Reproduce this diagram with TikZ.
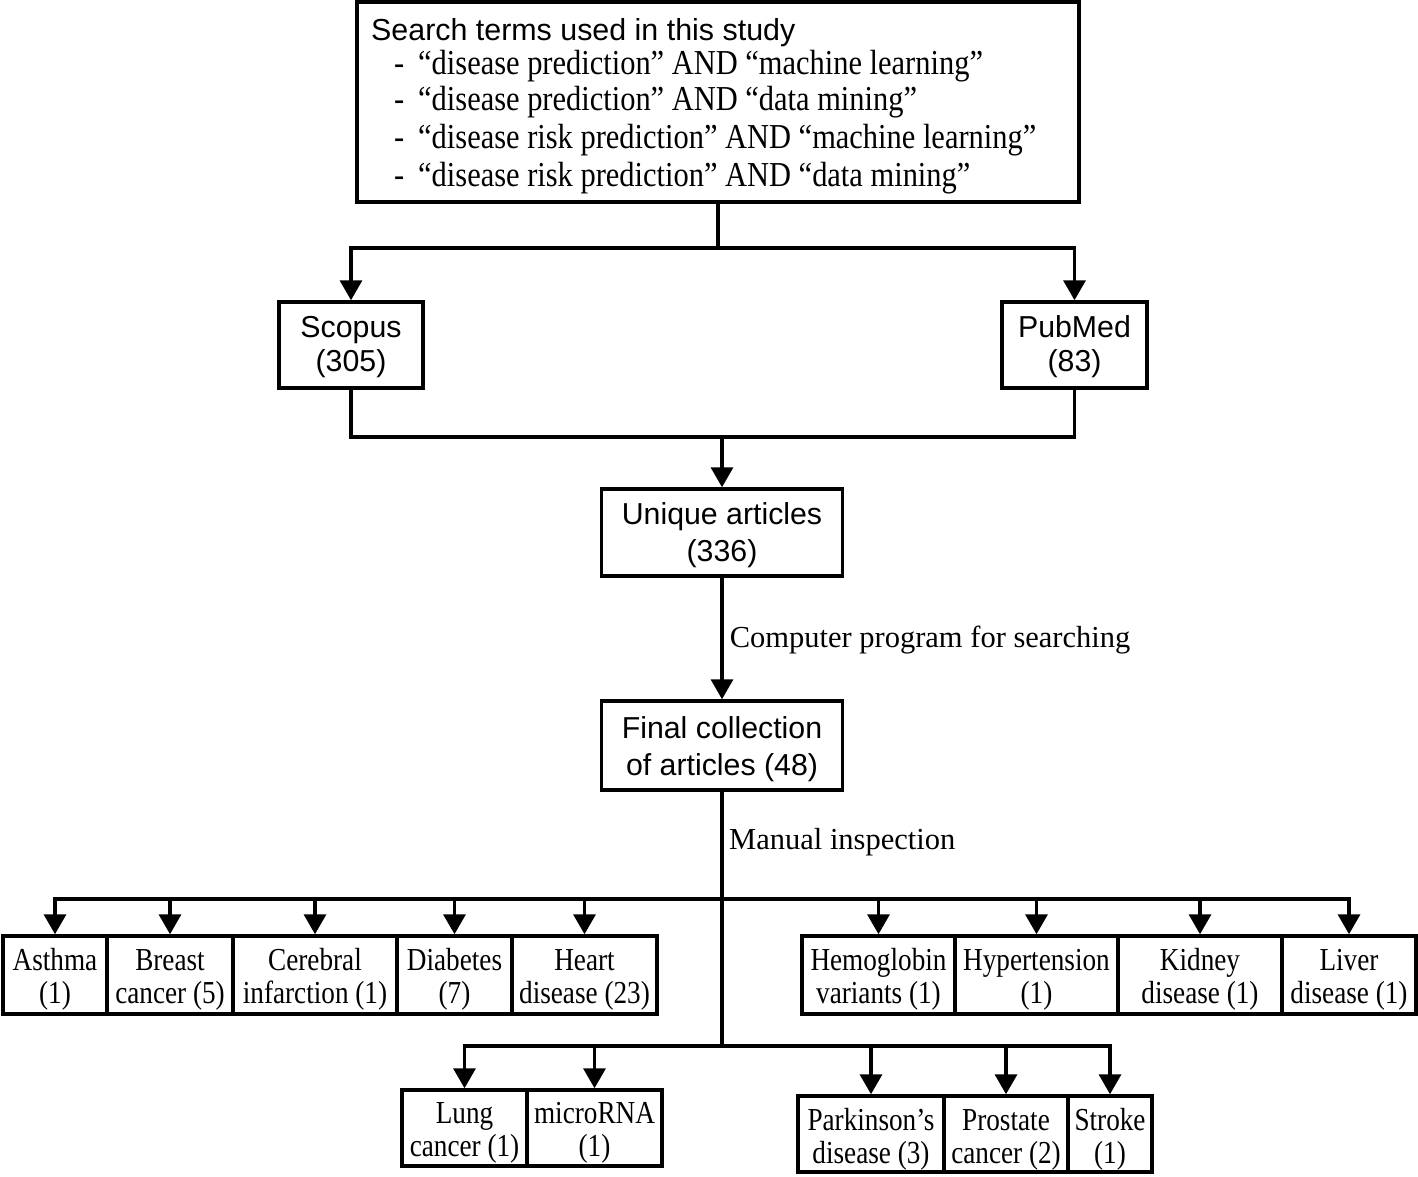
\documentclass[tikz,border=0pt]{standalone}
\usepackage{fontspec}
\setmainfont{Liberation Serif}
\newfontfamily\arialf{Liberation Sans}
\newfontfamily\serifc[FakeStretch=0.85]{Liberation Serif}
\newfontfamily\serift[FakeStretch=0.87]{Liberation Serif}
\usetikzlibrary{arrows.meta}
\newcommand\mystrut[1]{\rule{0pt}{#1}}
\tikzset{
  box/.style={draw, line width=3.5pt, inner sep=0pt, align=center},
  sansbox/.style={box, font=\arialf\fontsize{30.3}{34}\selectfont},
  sansbox2/.style={box, font=\arialf\fontsize{30.3}{37}\selectfont, minimum width=241pt},
  dbox/.style={box, minimum height=78pt, font=\serifc\fontsize{32}{33}\selectfont},
  ebox/.style={box, minimum height=76pt, font=\serifc\fontsize{32}{33}\selectfont},
  conn/.style={line width=3.5pt, line join=miter},
  arr/.style={conn, -{Triangle[length=20pt,width=22pt]}},
  lbl/.style={font=\fontsize{30.5}{34}\selectfont, inner sep=0pt, anchor=west},
  topsans/.style={anchor=base west, inner sep=0pt, font=\arialf\fontsize{30.4}{36}\selectfont},
  topserif/.style={anchor=base west, inner sep=0pt, font=\serift\fontsize{35}{37}\selectfont},
}
\begin{document}
\begin{tikzpicture}[x=1pt,y=-1pt]
\useasboundingbox (0,0) rectangle (1418,1176);
\fill[white] (0,0) rectangle (1418,1176);

% top box
\node[box, minimum width=722pt, minimum height=200pt] (search) at (718,102) {};
\node[topsans] (t0) at (371,40) {Search terms used in this study};
\node[topserif] (t1) at (394,74) {\makebox[24pt][l]{-}“disease prediction” AND “machine learning”};
\node[topserif] (t2) at (394,110) {\makebox[24pt][l]{-}“disease prediction” AND “data mining”};
\node[topserif] (t3) at (394,148) {\makebox[24pt][l]{-}“disease risk prediction” AND “machine learning”};
\node[topserif] (t4) at (394,186) {\makebox[24pt][l]{-}“disease risk prediction” AND “data mining”};

% databases
\node[sansbox, minimum width=144pt, minimum height=86pt] (scopus) at (351,345) {\mystrut{26pt}Scopus\\(305)};
\node[sansbox, minimum width=145pt, minimum height=86pt] (pubmed) at (1074.5,345) {\mystrut{26pt}PubMed\\(83)};

\node[sansbox2, minimum height=87pt] (unique) at (722,532.5) {\mystrut{28pt}Unique articles\\(336)};
\node[sansbox2, minimum height=89pt] (final) at (722,745.5) {\mystrut{30pt}Final collection\\of articles (48)};

% top row of diseases
\node[dbox, minimum width=104pt] (asthma) at (55,975) {\mystrut{30pt}Asthma\\(1)};
\node[dbox, minimum width=126pt] (breast) at (170,975) {\mystrut{30pt}Breast\\cancer (5)};
\node[dbox, minimum width=164pt] (cerebral) at (315,975) {\mystrut{30pt}Cerebral\\infarction (1)};
\node[dbox, minimum width=115pt] (diabetes) at (454.5,975) {\mystrut{30pt}Diabetes\\(7)};
\node[dbox, minimum width=145pt] (heart) at (584.5,975) {\mystrut{30pt}Heart\\disease (23)};

\node[dbox, minimum width=153pt] (hemo) at (878.5,975) {\mystrut{30pt}Hemoglobin\\variants (1)};
\node[dbox, minimum width=163pt] (hyper) at (1036.5,975) {\mystrut{30pt}Hypertension\\(1)};
\node[dbox, minimum width=164pt] (kidney) at (1200,975) {\mystrut{30pt}Kidney\\disease (1)};
\node[dbox, minimum width=134pt] (liver) at (1349,975) {\mystrut{30pt}Liver\\disease (1)};

% bottom row
\node[ebox, minimum width=125pt] (lung) at (464.5,1128) {\mystrut{30pt}Lung\\cancer (1)};
\node[ebox, minimum width=135pt] (mirna) at (594.5,1128) {\mystrut{30pt}microRNA\\(1)};
\node[ebox, minimum width=146pt] (park) at (871,1134) {\mystrut{32pt}Parkinson’s\\disease (3)};
\node[ebox, minimum width=124pt] (prost) at (1006,1134) {\mystrut{32pt}Prostate\\cancer (2)};
\node[ebox, minimum width=84pt] (stroke) at (1110,1134) {\mystrut{32pt}Stroke\\(1)};

% junctions
\coordinate (j1) at (718,248);
\coordinate (j2) at (722,437);
\coordinate (j3) at (722,899);
\coordinate (j4) at (722,1046);

\draw[conn] (search) -- (j1);
\draw[arr] (j1) -| (scopus);
\draw[arr] (j1) -| (pubmed);
\draw[conn] (scopus) |- (j2);
\draw[conn] (pubmed) |- (j2);
\draw[arr] (j2) -- (unique);
\draw[arr] (unique) -- (final) node[lbl, midway, xshift=6pt, yshift=-2pt] (cp) {Computer program for searching};
\draw[conn] (final) -- (j4);
\node[lbl] (mi) at (729,842) {Manual inspection};

\foreach \n in {asthma,breast,cerebral,diabetes,heart,hemo,hyper,kidney,liver}
  \draw[arr] (j3) -| (\n);
\foreach \n in {lung,mirna,park,prost,stroke}
  \draw[arr] (j4) -| (\n);
\end{tikzpicture}
\end{document}
